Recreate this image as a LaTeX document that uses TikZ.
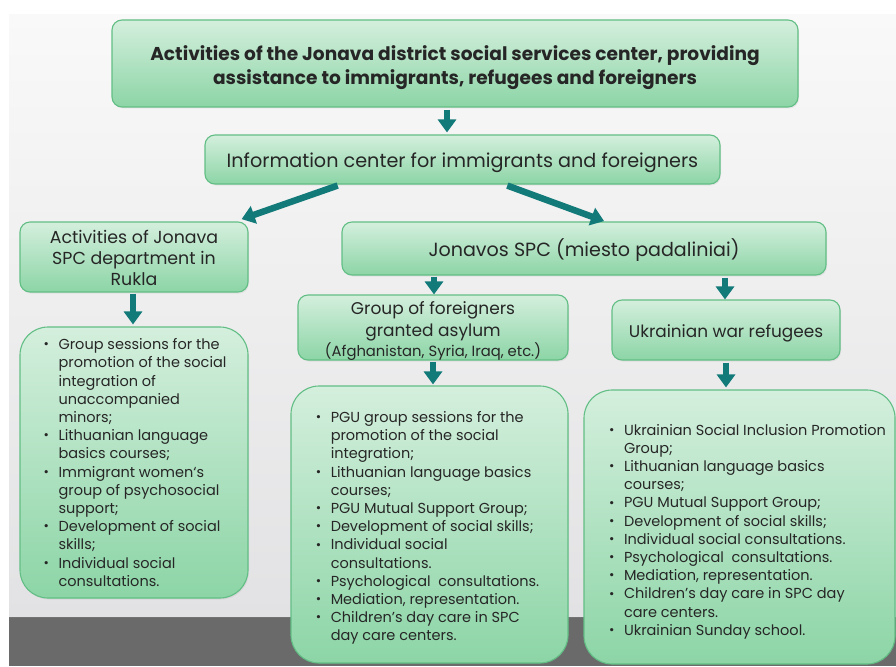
\documentclass[tikz,border=0pt]{standalone}
\usepackage{fontspec}
\setmainfont{Poppins}
\usetikzlibrary{arrows.meta,shadows}

\definecolor{boxtop}{RGB}{212,239,221}
\definecolor{boxbot}{RGB}{140,213,166}
\definecolor{boxline}{RGB}{98,190,132}
\definecolor{arrowteal}{RGB}{18,122,120}
\definecolor{txt}{RGB}{38,38,38}
\definecolor{bgtop}{RGB}{249,249,249}
\definecolor{bgbot}{RGB}{226,226,228}
\definecolor{floor}{RGB}{106,106,106}

% bullet lines for the activity lists
\newcommand{\itm}{\makebox[15pt][l]{\raisebox{0.8pt}{\scalebox{0.9}{\textbullet}}}}
\newcommand{\cnt}{\hspace*{15pt}}

\tikzset{
  box/.style={draw=boxline, line width=1.1pt, rounded corners=10pt,
    top color=boxtop, bottom color=boxbot, inner sep=0pt,
    drop shadow={opacity=0.12, shadow xshift=1pt, shadow yshift=-1.5pt}},
  listbox/.style={box, rounded corners=28pt},
  label/.style={text=txt, align=center, inner sep=0pt},
  listtext/.style={text=txt, align=left, inner sep=0pt,
    font=\fontsize{14.5}{18.2}\selectfont},
  arr/.style={draw=arrowteal, line width=6.5pt,
    -{Triangle[width=18pt,length=13pt]}}
}

\begin{document}
\begin{tikzpicture}[x=1pt,y=-1pt]
\useasboundingbox (0,0) rectangle (896,666);

% backdrop: pale wall and dark floor strip
\fill[white] (0,0) rectangle (896,666);
\shade[top color=bgtop, bottom color=bgbot] (9,15) rectangle (896,617);
\fill[floor] (9,617) rectangle (896,666);
\draw[black!55, line width=1pt] (9,617.5) -- (896,617.5);

% boxes
\node[box, minimum width=686pt, minimum height=87pt] (head) at (455,63.5) {};
\node[box, minimum width=515pt, minimum height=49pt] (info) at (462.5,159.5) {};
\node[box, minimum width=228pt, minimum height=70pt] (rukla) at (134,257) {};
\node[box, minimum width=484pt, minimum height=53pt] (jonavos) at (584,248.5) {};
\node[box, minimum width=270pt, minimum height=65pt] (asylum) at (433,327.5) {};
\node[box, minimum width=228pt, minimum height=60pt] (ukr) at (726,330) {};
\node[listbox, minimum width=228pt, minimum height=271pt] (llist) at (134,462.5) {};
\node[listbox, minimum width=277pt, minimum height=277pt] (mlist) at (429.5,524.5) {};
\node[listbox, minimum width=311pt, minimum height=274pt] (rlist) at (739.5,527) {};

% box texts
\node[label, font=\bfseries\fontsize{18.6}{24}\selectfont]
  (head-t) at ([yshift=-4.5pt]head.center)
  {Activities of the Jonava district social services center, providing\\
   assistance to immigrants, refugees and foreigners};

\node[label, font=\fontsize{19.2}{22}\selectfont]
  (info-t) at ([yshift=-3pt]info.center)
  {Information center for immigrants and foreigners};

\node[label, font=\fontsize{17.4}{21}\selectfont]
  (rukla-t) at ([yshift=-1pt]rukla.center)
  {Activities of Jonava\\ SPC department in\\ Rukla};

\node[label, font=\fontsize{19.1}{22}\selectfont]
  (jonavos-t) at ([yshift=-2pt]jonavos.center)
  {Jonavos SPC (miesto padaliniai)};

\node[label, font=\fontsize{17}{22}\selectfont]
  (asylum-t) at ([yshift=-3.5pt]asylum.center)
  {Group of foreigners\\ granted asylum\\[-2pt]
   {\fontsize{14.8}{17}\selectfont (Afghanistan, Syria, Iraq, etc.)}};

\node[label, font=\fontsize{16.9}{21}\selectfont]
  (ukr-t) at ([yshift=-3pt]ukr.center)
  {Ukrainian war refugees};

\node[listtext] (llist-t) at ([xshift=1pt]llist.center)
  {\itm Group sessions for the\\
   \cnt promotion of the social\\
   \cnt integration of\\
   \cnt unaccompanied\\
   \cnt minors;\\
   \itm Lithuanian language\\
   \cnt basics courses;\\
   \itm Immigrant women‘s\\
   \cnt group of psychosocial\\
   \cnt support;\\
   \itm Development of social\\
   \cnt skills;\\
   \itm Individual social\\
   \cnt consultations.};

\node[listtext] (mlist-t) at ([xshift=-2pt,yshift=-3.5pt]mlist.center)
  {\itm PGU group sessions for the\\
   \cnt promotion of the social\\
   \cnt integration;\\
   \itm Lithuanian language basics\\
   \cnt courses;\\
   \itm PGU Mutual Support Group;\\
   \itm Development of social skills;\\
   \itm Individual social\\
   \cnt consultations.\\
   \itm Psychological\ \ consultations.\\
   \itm Mediation, representation.\\
   \itm Children's day care in SPC\\
   \cnt day care centers.};

\node[listtext] (rlist-t) at ([xshift=8pt,yshift=-4.5pt]rlist.center)
  {\itm Ukrainian Social Inclusion Promotion\\
   \cnt Group;\\
   \itm Lithuanian language basics\\
   \cnt courses;\\
   \itm PGU Mutual Support Group;\\
   \itm Development of social skills;\\
   \itm Individual social consultations.\\
   \itm Psychological\ \ consultations.\\
   \itm Mediation, representation.\\
   \itm Children's day care in SPC day\\
   \cnt care centers.\\
   \itm Ukrainian Sunday school.};

% connectors
\draw[arr, shorten <=2pt, shorten >=2pt]
  ([xshift=-8pt]head.south) -- ([xshift=-8pt]head.south |- info.north);
\draw[arr, shorten <=3pt, shorten >=7pt]
  ([xshift=-122pt]info.south) -- ([xshift=101pt]rukla.north);
\draw[arr, shorten <=3pt, shorten >=1pt]
  ([xshift=42pt]info.south) -- ([xshift=21pt]jonavos.north);
\draw[arr, shorten <=1pt, shorten >=2pt]
  ([xshift=-1pt]rukla.south) -- ([xshift=-1pt]rukla.south |- llist.north);
\draw[arr, shorten <=1pt, shorten >=0pt]
  ([xshift=-150pt]jonavos.south) -- ([xshift=-150pt]jonavos.south |- asylum.north);
\draw[arr, shorten <=1pt, shorten >=1pt]
  (asylum.south) -- (asylum.south |- mlist.north);
\draw[arr, shorten <=2pt, shorten >=0pt]
  ([xshift=141pt]jonavos.south) -- ([xshift=141pt]jonavos.south |- ukr.north);
\draw[arr, shorten <=2pt, shorten >=2pt]
  (ukr.south) -- (ukr.south |- rlist.north);
\end{tikzpicture}
\end{document}
